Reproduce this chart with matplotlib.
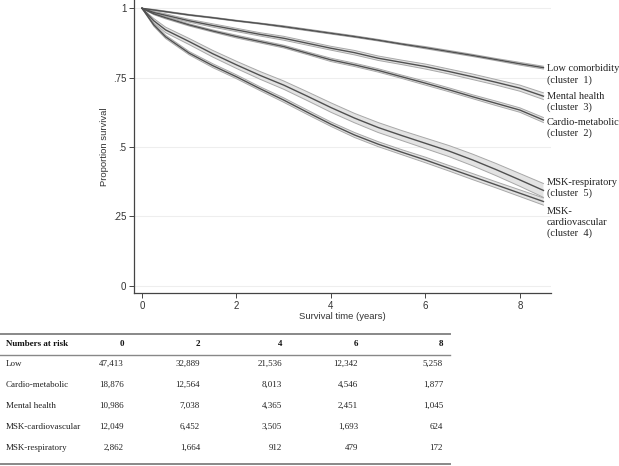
import matplotlib
matplotlib.use("Agg")
from matplotlib import pyplot as plt
from matplotlib.lines import Line2D

# survival estimates (years -> proportion surviving)
times = [0, 0.25, 0.5, 1, 1.5, 2, 2.5, 3, 3.5, 4, 4.5, 5, 5.5, 6, 6.5, 7, 7.5, 8, 8.5]

low_surv = [1, 0.994, 0.988, 0.976, 0.966, 0.955, 0.945, 0.934, 0.922, 0.910, 0.898,
            0.885, 0.871, 0.858, 0.844, 0.830, 0.815, 0.800, 0.786]
cardio_surv = [1, 0.980, 0.966, 0.940, 0.918, 0.898, 0.880, 0.862, 0.838, 0.814, 0.796,
               0.776, 0.753, 0.730, 0.706, 0.681, 0.657, 0.633, 0.597]
mental_surv = [1, 0.985, 0.975, 0.955, 0.938, 0.922, 0.906, 0.892, 0.874, 0.856, 0.840,
               0.820, 0.805, 0.790, 0.772, 0.753, 0.733, 0.712, 0.683]
mskcard_surv = [1, 0.940, 0.897, 0.838, 0.793, 0.753, 0.710, 0.669, 0.625, 0.582, 0.543,
                0.510, 0.481, 0.453, 0.423, 0.393, 0.363, 0.333, 0.303]
mskresp_surv = [1, 0.955, 0.922, 0.880, 0.836, 0.796, 0.758, 0.723, 0.683, 0.642, 0.604,
                0.570, 0.541, 0.513, 0.485, 0.453, 0.418, 0.381, 0.343]

# half widths of the confidence bands
low_ci = [0, .002, .002, .002, .002, .002, .002, .003, .003, .003, .003, .003, .003, .004,
          .004, .004, .004, .005, .005]
cardio_ci = [0, .003, .004, .004, .004, .005, .005, .005, .005, .006, .006, .006, .006, .007,
             .007, .007, .008, .008, .009]
mental_ci = [0, .004, .005, .005, .006, .006, .006, .007, .007, .007, .008, .008, .008, .009,
             .009, .010, .010, .011, .012]
mskcard_ci = [0, .005, .006, .006, .007, .007, .007, .008, .008, .008, .009, .009, .009, .010,
              .010, .011, .011, .012, .013]
mskresp_ci = [0, .008, .010, .011, .012, .013, .014, .015, .016, .017, .017, .018, .018, .019,
              .020, .021, .022, .023, .025]

curve_labels = ["Low comorbidity\n(cluster  1)", "Cardio-metabolic\n(cluster  2)",
                "Mental health\n(cluster  3)", "MSK-\ncardiovascular\n(cluster  4)",
                "MSK-respiratory\n(cluster  5)"]

# numbers at risk table
risk_times = ["0", "2", "4", "6", "8"]
risk_groups = ["Low", "Cardio-metabolic", "Mental health", "MSK-cardiovascular", "MSK-respiratory"]
risk_counts = [
    ["47,413", "32,889", "21,536", "12,342", "5,258"],
    ["18,876", "12,564", "8,013", "4,546", "1,877"],
    ["10,986", "7,038", "4,365", "2,451", "1,045"],
    ["12,049", "6,452", "3,505", "1,693", "624"],
    ["2,862", "1,664", "912", "479", "172"],
]

W, H = 619, 466
sans = "Liberation Sans"
serif = "Liberation Serif"

fig = plt.figure(figsize=(W / 100, H / 100), dpi=100)
ax = fig.add_axes([134 / W, 1 - 293 / H, (551 - 134) / W, 293 / H])

series = [(low_surv, low_ci), (cardio_surv, cardio_ci), (mental_surv, mental_ci),
          (mskcard_surv, mskcard_ci), (mskresp_surv, mskresp_ci)]
# label nudges in pixels (positive = down)
label_dy = [0, 1.5, -1, 9, -9.5]

for (surv, ci), label, dy in zip(series, curve_labels, label_dy):
    lo = [s - c for s, c in zip(surv, ci)]
    hi = [s + c for s, c in zip(surv, ci)]
    ax.fill_between(times, lo, hi, facecolor="#e3e3e3", edgecolor="none", zorder=2)
    ax.plot(times, lo, color="#a8a8a8", lw=0.7, zorder=3)
    ax.plot(times, hi, color="#a8a8a8", lw=0.7, zorder=3)
    ax.plot(times, surv, color="#505050", lw=1.0, zorder=4)
    ax.annotate(label, xy=(times[-1], surv[-1]), xytext=(2.5, 2.3 - dy * 0.72),
                textcoords="offset points", ha="left", va="top", fontsize=7.5,
                family=serif, color="#222222", linespacing=1.2, annotation_clip=False)

ax.set_xlim(-0.17, 8.66)
ax.set_ylim(-0.027, 1.03)
ax.set_xticks([0, 2, 4, 6, 8])
ax.set_yticks([0, 0.25, 0.5, 0.75, 1])
ax.set_yticklabels(["0", ".25", ".5", ".75", "1"])
ax.grid(axis="y", color="#eeeeee", lw=0.8, zorder=0)
for side in ["top", "right"]:
    ax.spines[side].set_visible(False)
for side in ["left", "bottom"]:
    ax.spines[side].set_color("#444444")
    ax.spines[side].set_linewidth(0.9)
ax.tick_params(axis="both", direction="out", length=3.5, width=0.7, color="#444444",
               labelsize=7, labelcolor="#333333", pad=2)
for lab in ax.get_xticklabels() + ax.get_yticklabels():
    lab.set_family(sans)
ax.set_xlabel("Survival time (years)", fontsize=6.8, family=sans, color="#333333", labelpad=1)
ax.set_ylabel("Proportion survival", fontsize=6.8, family=sans, color="#333333", labelpad=3)

# table drawn in pixel coordinates
tab = fig.add_axes([0, 0, 1, 1])
tab.set_xlim(0, W)
tab.set_ylim(H, 0)
tab.axis("off")

tab.add_line(Line2D([0, 450], [334, 334], color="#888888", lw=1.4))
tab.add_line(Line2D([0, 450], [354.5, 354.5], color="#888888", lw=1.0))
tab.add_line(Line2D([0, 450], [464, 464], color="#888888", lw=1.4))

col_right = [124, 200, 282, 358, 443]
row_y = [364, 385, 406, 427, 448]

tab.text(6, 344.5, "Numbers at risk", ha="left", va="center", fontsize=6.5,
         family=serif, weight="bold", color="#111111")
for x, t in zip(col_right, risk_times):
    tab.text(x, 344.5, t, ha="right", va="center", fontsize=6.5, family=serif,
             weight="bold", color="#111111")
for y, grp, counts in zip(row_y, risk_groups, risk_counts):
    tab.text(6, y, grp, ha="left", va="center", fontsize=6.5, family=serif, color="#222222")
    for x, c in zip(col_right, counts):
        tab.text(x, y, c, ha="right", va="center", fontsize=6.5, family=serif, color="#222222")

fig.savefig("out.png", dpi=100)
